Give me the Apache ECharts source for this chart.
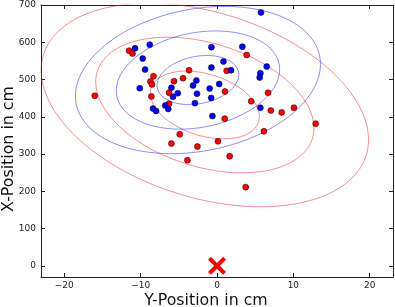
<!DOCTYPE html>
<html>
<head>
<meta charset="utf-8">
<script src="https://cdn.jsdelivr.net/npm/echarts@6/dist/echarts.min.js"></script>
<style>
html,body{margin:0;padding:0;background:#fff;}
#chart{width:395px;height:307px;}
</style>
</head>
<body>
<div id="chart"></div>
<script>
// ---- data ----
const redX = [-11.52, -11.07, -16.01, -8.32, -8.72, -8.51, -8.59, -5.63, -4.45, -3.66,
              -6.28, -6.28, -4.88, -5.97, -2.57, -3.87, 3.89, 1.27, 1.05, 6.68,
              4.48, 7.05, 8.47, 10.08, 12.92, 1.01, 6.15, 0.13, 1.66, 3.76];
const redY = [577.5, 569.5, 456.4, 508.8, 494.7, 486.6, 454.5, 495.5, 503.5, 524.9,
              464.4, 435.0, 352.9, 328.1, 320.1, 283.4, 566.0, 523.3, 467.9, 464.4,
              441.7, 416.8, 411.8, 424.3, 381.6, 394.9, 361.0, 334.2, 294.1, 211.2];
const blueX = [5.76, -10.73, -8.81, -9.73, -9.42, -10.12, -5.97, -5.76, -5.14, -2.70,
               -3.14, -2.62, -2.89, -8.38, -7.98, -6.78, -6.39, -0.73, 3.32, 0.84,
               -0.73, 1.83, 6.51, 5.68, 5.59, 0.29, -0.96, -0.76, 5.68, -0.60];
const blueY = [680.0, 583.7, 593.6, 556.1, 526.7, 476.7, 477.8, 453.7, 463.4, 497.3,
               484.0, 461.8, 436.6, 421.9, 415.8, 430.5, 421.1, 586.9, 588.2, 548.1,
               532.1, 524.9, 534.8, 516.8, 505.3, 488.0, 475.9, 450.5, 424.3, 401.9];
const targetX = [0];
const targetY = [0];
const nStd = [1, 2, 3];
const xTicks = [-20, -10, 0, 10, 20];
const yTicks = [0, 100, 200, 300, 400, 500, 600, 700];
const xName = 'Y-Position in cm';
const yName = 'X-Position in cm';

// ---- confidence ellipses from the points (covariance, ddof=1) ----
function ellipses(xs, ys) {
  const n = xs.length;
  const mx = xs.reduce((a, b) => a + b, 0) / n;
  const my = ys.reduce((a, b) => a + b, 0) / n;
  let sxx = 0, syy = 0, sxy = 0;
  for (let i = 0; i < n; i++) {
    const dx = xs[i] - mx, dy = ys[i] - my;
    sxx += dx * dx; syy += dy * dy; sxy += dx * dy;
  }
  sxx /= (n - 1); syy /= (n - 1); sxy /= (n - 1);
  const l11 = Math.sqrt(sxx), l21 = sxy / l11, l22 = Math.sqrt(syy - l21 * l21);
  return nStd.map(k => {
    const pts = [];
    for (let i = 0; i <= 240; i++) {
      const t = i / 240 * 2 * Math.PI;
      const c = Math.cos(t), s = Math.sin(t);
      pts.push([mx + k * l11 * c, my + k * (l21 * c + l22 * s)]);
    }
    return pts;
  });
}
const redEll = ellipses(redX, redY);
const blueEll = ellipses(blueX, blueY);
const zip = (a, b) => a.map((v, i) => [v, b[i]]);

const FONT = 'DejaVu Sans';
const axisColor = '#222';
const fmt = v => (v < 0 ? '\u2212' + Math.abs(v) : String(v));

const xBase = {
  type: 'value', min: -23.05, max: 23.05,
  splitLine: { show: false },
  axisLine: { show: true, onZero: false, lineStyle: { color: axisColor, width: 1 } }
};
const yBase = {
  type: 'value', min: -30, max: 700,
  splitLine: { show: false },
  axisLine: { show: true, onZero: false, lineStyle: { color: axisColor, width: 1 } }
};

const series = [];
redEll.forEach(d => series.push({
  type: 'line', data: d, showSymbol: false, symbol: 'none', silent: true, clip: true,
  lineStyle: { color: 'rgba(255,0,0,0.45)', width: 1 }, z: 1
}));
blueEll.forEach(d => series.push({
  type: 'line', data: d, showSymbol: false, symbol: 'none', silent: true, clip: true,
  lineStyle: { color: 'rgba(0,0,255,0.45)', width: 1 }, z: 1
}));
series.push({
  type: 'scatter', data: zip(redX, redY), symbolSize: 6, z: 3,
  itemStyle: { color: '#ff0000', borderColor: '#000', borderWidth: 0.5, opacity: 1 }
});
series.push({
  type: 'scatter', data: zip(blueX, blueY), symbolSize: 6, z: 3,
  itemStyle: { color: '#0000ff', borderColor: '#000', borderWidth: 0.5, opacity: 1 }
});
series.push({
  type: 'scatter', data: zip(targetX, targetY), symbolSize: 18, z: 4,
  symbol: 'path://M0,1.6L1.6,0L5,3.4L8.4,0L10,1.6L6.6,5L10,8.4L8.4,10L5,6.6L1.6,10L0,8.4L3.4,5Z',
  itemStyle: { color: '#ff0000', opacity: 1 }
});

const option = {
  animation: false,
  backgroundColor: '#fff',
  grid: { left: 41, right: 2, top: 5, bottom: 30, containLabel: false, outerBoundsMode: 'none' },
  xAxis: [
    Object.assign({}, xBase, {
      position: 'bottom',
      axisTick: { show: true, inside: true, length: 4, customValues: xTicks, lineStyle: { color: axisColor } },
      axisLabel: { show: true, customValues: xTicks, formatter: fmt, margin: 4,
        fontFamily: FONT, fontSize: 9, color: '#222' },
      name: xName, nameLocation: 'middle', nameGap: 16, nameMoveOverlap: false,
      nameTextStyle: { fontFamily: FONT, fontSize: 15.8, color: '#111', padding: [0, 22, 0, 0] }
    }),
    Object.assign({}, xBase, {
      position: 'top',
      axisTick: { show: true, inside: true, length: 4, customValues: xTicks, lineStyle: { color: axisColor } },
      axisLabel: { show: false }
    })
  ],
  yAxis: [
    Object.assign({}, yBase, {
      position: 'left',
      axisTick: { show: true, inside: true, length: 4, customValues: yTicks, lineStyle: { color: axisColor } },
      axisLabel: { show: true, customValues: yTicks, formatter: fmt, margin: 5,
        fontFamily: FONT, fontSize: 9, color: '#222' },
      name: yName, nameLocation: 'middle', nameGap: 24, nameRotate: 90, nameMoveOverlap: false,
      nameTextStyle: { fontFamily: FONT, fontSize: 15.8, color: '#111', padding: [0, 16, 0, 0] }
    }),
    Object.assign({}, yBase, {
      position: 'right',
      axisTick: { show: true, inside: true, length: 4, customValues: yTicks, lineStyle: { color: axisColor } },
      axisLabel: { show: false }
    })
  ],
  series: series
};

const chart = echarts.init(document.getElementById('chart'), null, { renderer: 'canvas' });
chart.setOption(option);
</script>
</body>
</html>
